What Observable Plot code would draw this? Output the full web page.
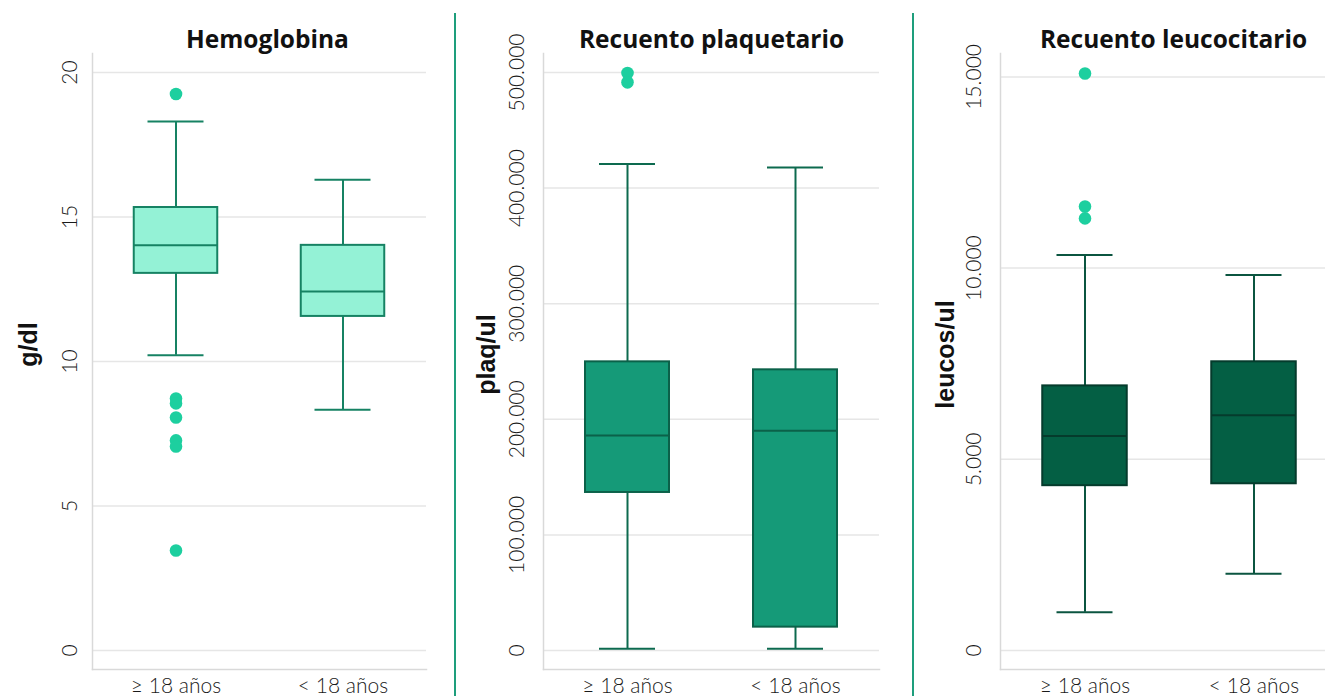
<!DOCTYPE html>
<html>
<head>
<meta charset="utf-8">
<script src="https://cdn.jsdelivr.net/npm/d3@7"></script>
<script src="https://cdn.jsdelivr.net/npm/@observablehq/plot@0.6"></script>
<style>
  html, body { margin: 0; padding: 0; background: #fff; overflow: hidden; }
  #wrap { position: relative; width: 1325px; height: 696px; overflow: hidden; }
  .panel { position: absolute; top: 0; width: 455px; height: 696px; }
  .panel svg { max-width: none !important; }
  .sep { position: absolute; top: 13px; width: 2px; height: 683px; background: #1e9e7c; }
</style>
</head>
<body>
<div id="wrap"></div>
<script>
// ---------- data ----------
const groups = ["≥ 18 años", "< 18 años"];

// Hemoglobina (g/dl)
const hbLow    = [10.22, 8.33];
const hbQ1     = [13.05, 11.56];
const hbMedian = [14.02, 12.42];
const hbQ3     = [15.33, 14.02];
const hbHigh   = [18.31, 16.29];
const hbOutliers = [[19.26, 8.72, 8.55, 8.06, 7.27, 7.06, 3.46], []];
const hbTicks  = [0, 5, 10, 15, 20];

// Recuento plaquetario (plaq/ul)
const pltLow    = [1500, 1500];
const pltQ1     = [136700, 20200];
const pltMedian = [186000, 190100];
const pltQ3     = [249700, 242800];
const pltHigh   = [420800, 417800];
const pltOutliers = [[499600, 491500], []];
const pltTicks  = [0, 100000, 200000, 300000, 400000, 500000];

// Recuento leucocitario (leucos/ul)
const wbcLow    = [1000, 2010];
const wbcQ1     = [4310, 4360];
const wbcMedian = [5610, 6150];
const wbcQ3     = [6920, 7550];
const wbcHigh   = [10345, 9817];
const wbcOutliers = [[15090, 11610, 11300], []];
const wbcTicks  = [0, 5000, 10000, 15000];

// ---------- drawing ----------
const esFormat = d3.formatLocale({decimal: ",", thousands: ".", grouping: [3], currency: ["", ""]}).format(",");

function panel(o) {
  const boxes = groups.map((g, i) => ({group: g, low: o.low[i], q1: o.q1[i], median: o.median[i], q3: o.q3[i], high: o.high[i]}));
  const outs = groups.flatMap((g, i) => o.outliers[i].map(v => ({group: g, value: v})));
  const frameW = o.width - o.marginLeft - o.marginRight;
  const step = frameW / groups.length;
  const boxInset = step * 0.25;
  const capInset = (step - 56) / 2;
  return Plot.plot({
    width: o.width,
    height: 696,
    marginTop: 53,
    marginBottom: 27,
    marginLeft: o.marginLeft,
    marginRight: o.marginRight,
    style: {fontFamily: "Lato, 'Open Sans', sans-serif", fontSize: "21px", color: "#1a1a1a", overflow: "visible", background: "transparent"},
    x: {domain: groups, padding: 0, axis: null},
    y: {domain: o.domain, axis: null},
    marks: [
      Plot.gridY(o.ticks, {stroke: "#e6e6e6", strokeOpacity: 1, strokeWidth: 1.5}),
      Plot.frame({anchor: "left", stroke: "#d9d9d9", strokeWidth: 1.5}),
      Plot.frame({anchor: "bottom", stroke: "#d9d9d9", strokeWidth: 1.5}),
      Plot.axisY(o.ticks, {tickFormat: esFormat, tickRotate: -90, tickSize: 0, tickPadding: o.tickPadding, fontSize: 21, fontWeight: 300, label: null}),
      Plot.axisX({tickSize: 0, tickPadding: 9, fontSize: 21, fontWeight: 300, label: null}),
      Plot.ruleX(boxes, {x: "group", y1: "low", y2: "q1", stroke: o.whisker, strokeWidth: 2}),
      Plot.ruleX(boxes, {x: "group", y1: "q3", y2: "high", stroke: o.whisker, strokeWidth: 2}),
      Plot.tickY(boxes, {x: "group", y: "low", stroke: o.whisker, strokeWidth: 2, insetLeft: capInset, insetRight: capInset}),
      Plot.tickY(boxes, {x: "group", y: "high", stroke: o.whisker, strokeWidth: 2, insetLeft: capInset, insetRight: capInset}),
      Plot.barY(boxes, {x: "group", y1: "q1", y2: "q3", fill: o.fill, stroke: o.stroke, strokeWidth: 2, insetLeft: boxInset, insetRight: boxInset}),
      Plot.tickY(boxes, {x: "group", y: "median", stroke: o.stroke, strokeWidth: 2, insetLeft: boxInset, insetRight: boxInset}),
      Plot.dot(outs, {x: "group", y: "value", r: 6.3, fill: "#1dcf9f"}),
      Plot.text([o.title], {frameAnchor: "top", textAnchor: "middle", lineAnchor: "bottom", dy: -6, dx: o.titleDx, fontSize: 24.5, fontWeight: 700, fontFamily: "'Open Sans', sans-serif", fill: "#111"}),
      Plot.text([o.label], {frameAnchor: "left", rotate: -90, textAnchor: "middle", lineAnchor: "middle", dx: o.labelDx, dy: o.labelDy, fontSize: 25, fontWeight: 700, fontFamily: "'Liberation Sans', Arial, sans-serif", fill: "#111"})
    ]
  });
}

const wrap = document.getElementById("wrap");
function place(svg, left) {
  const d = document.createElement("div");
  d.className = "panel";
  d.style.left = left + "px";
  d.appendChild(svg);
  wrap.appendChild(d);
}
function sep(left) {
  const d = document.createElement("div");
  d.className = "sep";
  d.style.left = left + "px";
  wrap.appendChild(d);
}

place(panel({
  title: "Hemoglobina", label: "g/dl",
  low: hbLow, q1: hbQ1, median: hbMedian, q3: hbQ3, high: hbHigh, outliers: hbOutliers,
  ticks: hbTicks, domain: [-0.66, 20.66],
  width: 455, marginLeft: 92, marginRight: 29, tickPadding: 16,
  fill: "#94f2d6", stroke: "#168263", whisker: "#168263",
  titleDx: 8, labelDx: -64, labelDy: -17
}), 0);
sep(454);
place(panel({
  title: "Recuento plaquetario", label: "plaq/ul",
  low: pltLow, q1: pltQ1, median: pltMedian, q3: pltQ3, high: pltHigh, outliers: pltOutliers,
  ticks: pltTicks, domain: [-16436, 516436],
  width: 455, marginLeft: 86, marginRight: 33, tickPadding: 20,
  fill: "#159a78", stroke: "#0b6149", whisker: "#0d6a4f",
  titleDx: 0, labelDx: -57, labelDy: -7
}), 457);
sep(912);
place(panel({
  title: "Recuento leucocitario", label: "leucos/ul",
  low: wbcLow, q1: wbcQ1, median: wbcMedian, q3: wbcQ3, high: wbcHigh, outliers: wbcOutliers,
  ticks: wbcTicks, domain: [-497, 15612],
  width: 455, marginLeft: 86, marginRight: 31, tickPadding: 20,
  fill: "#045f44", stroke: "#053b2c", whisker: "#0b5540",
  titleDx: 4, labelDx: -55, labelDy: -7
}), 914);
</script>
</body>
</html>
